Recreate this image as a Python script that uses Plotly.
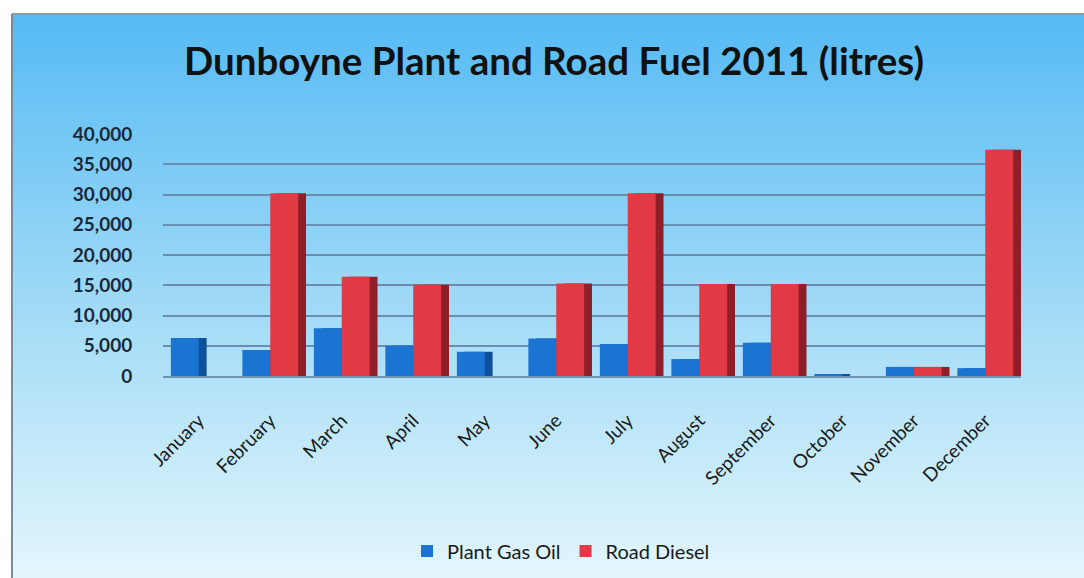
import plotly.graph_objects as go

months = ["January", "February", "March", "April", "May", "June", "July",
          "August", "September", "October", "November", "December"]
plant_gas_oil = [6300, 4300, 7900, 5000, 4000, 6200, 5300, 2800, 5500, 300, 1500, 1300]
road_diesel = [0, 30200, 16400, 15100, 0, 15300, 30200, 15200, 15200, 0, 1500, 37400]
y_ticks = [0, 5000, 10000, 15000, 20000, 25000, 30000, 35000, 40000]
y_tick_text = ["0", "5,000", "10,000", "15,000", "20,000", "25,000", "30,000", "35,000", "40,000"]

W, H = 1084, 578
PL, PR, PT, PB = 163, 1021, 134, 376  # plot area in pixels

BLUE = "#1c74d2"
BLUE_DARK = "#10509a"
RED = "#e23a45"
RED_DARK = "#8e1f28"

bw = 0.39
depth = 0.11

fig = go.Figure()
fig.add_trace(go.Bar(x=months, y=plant_gas_oil, width=bw, offset=-bw + depth,
                     marker=dict(color=BLUE_DARK, line=dict(width=0)),
                     showlegend=False, hoverinfo="skip"))
fig.add_trace(go.Bar(x=months, y=plant_gas_oil, width=bw, offset=-bw, name="Plant Gas Oil",
                     marker=dict(color=BLUE, line=dict(width=0))))
fig.add_trace(go.Bar(x=months, y=road_diesel, width=bw, offset=depth,
                     marker=dict(color=RED_DARK, line=dict(width=0)),
                     showlegend=False, hoverinfo="skip"))
fig.add_trace(go.Bar(x=months, y=road_diesel, width=bw, offset=0, name="Road Diesel",
                     marker=dict(color=RED, line=dict(width=0))))

# gradient background (paper coordinates computed from pixel frame)
def px_to_px(x):
    return (x - PL) / (PR - PL)

def py_to_py(y):
    return (PB - y) / (PB - PT)

stops = [(0.0, (86, 187, 244)), (0.5, (158, 217, 246)), (1.0, (226, 246, 252))]

def col(t):
    for (a, ca), (b, cb) in zip(stops[:-1], stops[1:]):
        if a <= t <= b:
            f = (t - a) / (b - a)
            c = [round(ca[i] + (cb[i] - ca[i]) * f) for i in range(3)]
            return "rgb(%d,%d,%d)" % tuple(c)
    return "rgb(%d,%d,%d)" % stops[-1][1]

shapes = []
top, bottom = 14, H
n = 70
for i in range(n):
    y0 = top + (bottom - top) * i / n
    y1 = top + (bottom - top) * (i + 1) / n + 1
    shapes.append(dict(type="rect", xref="paper", yref="paper", layer="below",
                       x0=px_to_px(12), x1=px_to_px(W + 2), y0=py_to_py(y1), y1=py_to_py(y0),
                       fillcolor=col(i / (n - 1)), line=dict(width=0)))
shapes.append(dict(type="line", xref="paper", yref="paper", layer="below",
                   x0=px_to_px(12), x1=px_to_px(W + 2), y0=py_to_py(14), y1=py_to_py(14),
                   line=dict(color="#8a9aa8", width=2)))
shapes.append(dict(type="line", xref="paper", yref="paper", layer="below",
                   x0=px_to_px(12), x1=px_to_px(12), y0=py_to_py(14), y1=py_to_py(H + 2),
                   line=dict(color="#7a8a98", width=2)))

fig.update_layout(
    width=W, height=H,
    margin=dict(l=PL, r=W - PR, t=PT, b=H - PB, pad=0),
    paper_bgcolor="white",
    plot_bgcolor="rgba(0,0,0,0)",
    barmode="overlay",
    shapes=shapes,
    title=dict(text="<b>Dunboyne Plant and Road Fuel 2011 (litres)</b>",
               font=dict(family="Lato", size=38.5, color="#111111"),
               x=554 / W, xref="container", xanchor="center",
               y=1 - 62 / H, yref="container", yanchor="middle"),
    xaxis=dict(tickangle=-45, tickfont=dict(family="Lato", size=19, color="#1a1a1a"),
               ticks="outside", ticklen=24, tickcolor="rgba(0,0,0,0)",
               showline=True, linecolor="#6f93b3", linewidth=2,
               showgrid=False, range=[-0.5, 11.5]),
    yaxis=dict(range=[0, 40000], tickvals=y_ticks,
               ticktext=["<b>%s</b>" % t for t in y_tick_text],
               tickfont=dict(family="Lato", size=19, color="#1a2838"),
               ticks="outside", ticklen=26, tickcolor="rgba(0,0,0,0)",
               showgrid=True, gridcolor="#6a8db0", gridwidth=2, zeroline=False),
    legend=dict(orientation="h", x=561 / W, xref="container", xanchor="center",
                y=1 - 551 / H, yref="container", yanchor="middle",
                font=dict(family="Lato", size=20, color="#1a1a1a"),
                bgcolor="rgba(0,0,0,0)", itemwidth=30),
)

fig.write_html("out.html")
